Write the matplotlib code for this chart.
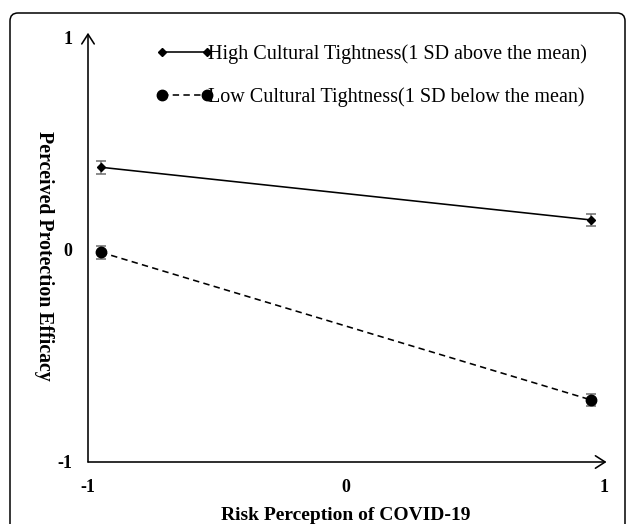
import matplotlib
matplotlib.use("Agg")
import matplotlib.pyplot as plt
from matplotlib.patches import FancyBboxPatch
from matplotlib.transforms import IdentityTransform

# simple slopes: risk perception x cultural tightness
risk_x = [-0.95, 0.95]
high_y = [0.387, 0.139]
low_y = [-0.013, -0.708]
high_err = [0.03, 0.03]
low_err = [0.031, 0.03]
high_label = "High Cultural Tightness(1 SD above the mean)"
low_label = "Low Cultural Tightness(1 SD below the mean)"
tick_vals = [-1, 0, 1]
tick_text = ["-1", "0", "1"]

plt.rcParams["font.family"] = ["Liberation Serif", "DejaVu Serif"]

W, H = 627, 524
fig = plt.figure(figsize=(W / 100, H / 100), dpi=100)
ax = fig.add_axes([88 / W, 1 - 462 / H, 516 / W, 425 / H])

# gray error bars under the black lines
ax.errorbar(risk_x, high_y, yerr=high_err, fmt="none", ecolor="#6e6e6e",
            elinewidth=1.1, capsize=3.8, capthick=1.1, zorder=2)
ax.errorbar(risk_x, low_y, yerr=low_err, fmt="none", ecolor="#6e6e6e",
            elinewidth=1.1, capsize=3.8, capthick=1.1, zorder=2)
ax.plot(risk_x, high_y, color="black", lw=1.15, marker="D", ms=4.5,
        label=high_label, zorder=3)
ax.plot(risk_x, low_y, color="black", lw=1.15, ls=(0, (4, 2.7)), marker="o",
        ms=7.5, label=low_label, zorder=3)

ax.set_xlim(-1, 1)
ax.set_ylim(-1, 1)
for s in ax.spines.values():
    s.set_visible(False)

# axes drawn as arrows
arrow = dict(arrowstyle="->,head_length=0.7,head_width=0.45", lw=1.15,
             color="black", shrinkA=0, shrinkB=0)
ax.annotate("", xy=(1.01, -1), xytext=(-1, -1), arrowprops=arrow,
            annotation_clip=False)
ax.annotate("", xy=(-1, 1.02), xytext=(-1, -1), arrowprops=arrow,
            annotation_clip=False)

ax.set_xticks(tick_vals)
ax.set_xticklabels(tick_text, fontweight="bold", fontsize=13)
ax.set_yticks(tick_vals)
ax.set_yticklabels(tick_text, fontweight="bold", fontsize=13)
ax.tick_params(axis="x", which="major", length=0, pad=12.5)
ax.tick_params(axis="y", which="major", length=0, pad=11.5)
ax.set_xticks([0], minor=True)
ax.set_yticks([0], minor=True)
ax.tick_params(axis="x", which="minor", direction="in", length=4.5, width=1)
ax.tick_params(axis="y", which="minor", direction="out", length=3, width=1)

fig.text(346 / W, 1 - 516 / H, "Risk Perception of COVID-19",
         fontsize=14, fontweight="bold", ha="center", va="center")
fig.text(44 / W, 1 - 256 / H, "Perceived Protection Efficacy",
         fontsize=14.3, fontweight="bold", ha="center", va="center", rotation=-90)

ax.legend(loc="upper left", bbox_to_anchor=(156 / W, 1 - 44 / H),
          bbox_transform=fig.transFigure, frameon=False, fontsize=14.5,
          numpoints=2, handlelength=2.83, handletextpad=-0.24,
          labelspacing=1.18, borderpad=0, borderaxespad=0)

# rounded frame around the whole panel (runs off the bottom)
frame = FancyBboxPatch((10, -30), 615, H - 13 + 30,
                       boxstyle="round,pad=0,rounding_size=8",
                       transform=IdentityTransform(), fill=False,
                       lw=1.1, ec="black")
fig.patches.append(frame)

fig.savefig("out.png", dpi=100)
